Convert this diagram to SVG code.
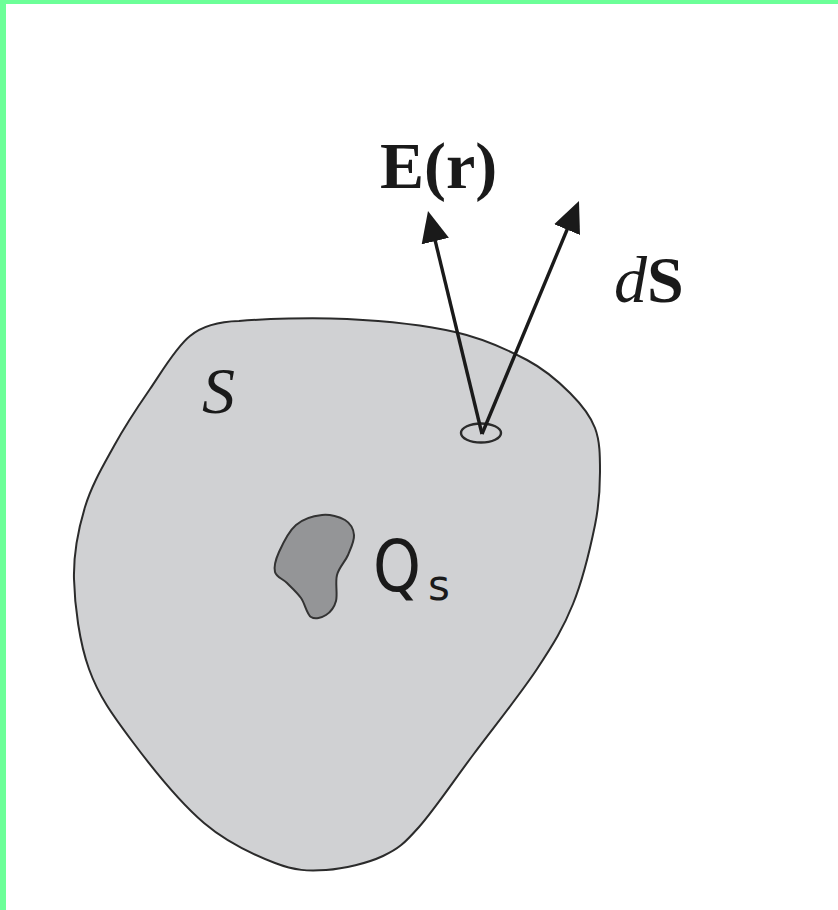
<svg xmlns="http://www.w3.org/2000/svg" width="838" height="910" viewBox="0 0 838 910">
<style>
.surface{fill:#d0d1d3;stroke:#2b2b2b;stroke-width:2}
.charge{fill:#949597;stroke:#333;stroke-width:2}
.vec{stroke:#1a1a1a;stroke-width:3.4;fill:none}
.serif{font-family:"Liberation Serif","Times New Roman",serif;fill:#1a1a1a}
.sans{font-family:"DejaVu Sans","Open Sans",sans-serif;fill:#1a1a1a}
</style>
<defs>
<marker id="ah" markerUnits="userSpaceOnUse" viewBox="0 0 31 28" markerWidth="31" markerHeight="28" refX="11" refY="14" orient="auto">
<path d="M0,0 L31,14 L0,28 Z" fill="#1a1a1a"/>
</marker>
</defs>
<rect width="838" height="910" fill="#ffffff"/>
<g id="surface-S">
<path class="surface" d="M190,336 C201,327 215,321.5 239,321 C264.2,318.8 311,317.2 347,319 C383,320.8 425,325.2 455,332 C485,338.8 507.8,349.8 527,360 C546.2,370.2 558.7,381.7 570,393 C581.3,404.3 590,414.8 595,428 C600,441.2 600,455.8 600,472 C600,488.2 599.5,503 595,525 C590.5,547 582.7,580 573,604 C563.3,628 553.7,643.8 537,669 C520.3,694.2 492.7,728.7 473,755 C453.3,781.3 434,810.2 419,827 C404,843.8 398.5,848.8 383,856 C367.5,863.2 344,868.8 326,870 C308,871.2 295.3,870.8 275,863 C254.7,855.2 227.8,843.3 204,823 C180.2,802.7 151.2,766.7 132,741 C112.8,715.3 98.7,696 89,669 C79.3,642 74.7,606 74,579 C73.3,552 78.3,529.2 85,507 C91.7,484.8 103.2,465.7 114,446 C124.8,426.3 139.3,404.5 150,389 C160.7,373.5 176,347 190,336 Z"/>
<text class="serif" x="202" y="413" font-size="66" font-style="italic">S</text>
</g>
<g id="charge-Qs">
<path class="charge" d="M322,515 C330.2,514.2 339.7,516.7 345,520 C350.3,523.3 353.5,529.2 354,535 C354.5,540.8 350.8,548.3 348,555 C345.2,561.7 339,567.3 337,575 C335,582.7 337.8,594.3 336,601 C334.2,607.7 330.2,612.3 326,615 C321.8,617.7 315.2,619.8 311,617 C306.8,614.2 305,603.7 301,598 C297,592.3 291.3,587.3 287,583 C282.7,578.7 276.3,577.2 275,572 C273.7,566.8 275.5,559.8 279,552 C282.5,544.2 288.8,531.2 296,525 C303.2,518.8 313.8,515.8 322,515 Z"/>
<text class="sans" x="373" y="591" font-size="72" textLength="48" lengthAdjust="spacingAndGlyphs">Q</text>
<text class="sans" x="428" y="600" font-size="42">s</text>
</g>
<g id="element-dS">
<ellipse cx="481" cy="433" rx="20" ry="9.5" fill="none" stroke="#2b2b2b" stroke-width="2.4"/>
</g>
<g id="connectors">
<line class="vec" x1="482" y1="434" x2="432.7" y2="230.4" marker-end="url(#ah)"/>
<line class="vec" x1="482" y1="434" x2="571.3" y2="219.5" marker-end="url(#ah)"/>
</g>
<g id="label-E">
<text class="serif" x="380" y="188" font-size="66" font-weight="bold">E(r)</text>
</g>
<g id="label-dS">
<text class="serif" x="614" y="302" font-size="66"><tspan font-style="italic">d</tspan><tspan font-weight="bold">S</tspan></text>
</g>
<rect x="0" y="0" width="838" height="4" fill="#6cff98"/>
<rect x="0" y="0" width="6" height="910" fill="#6cff98"/>
</svg>
